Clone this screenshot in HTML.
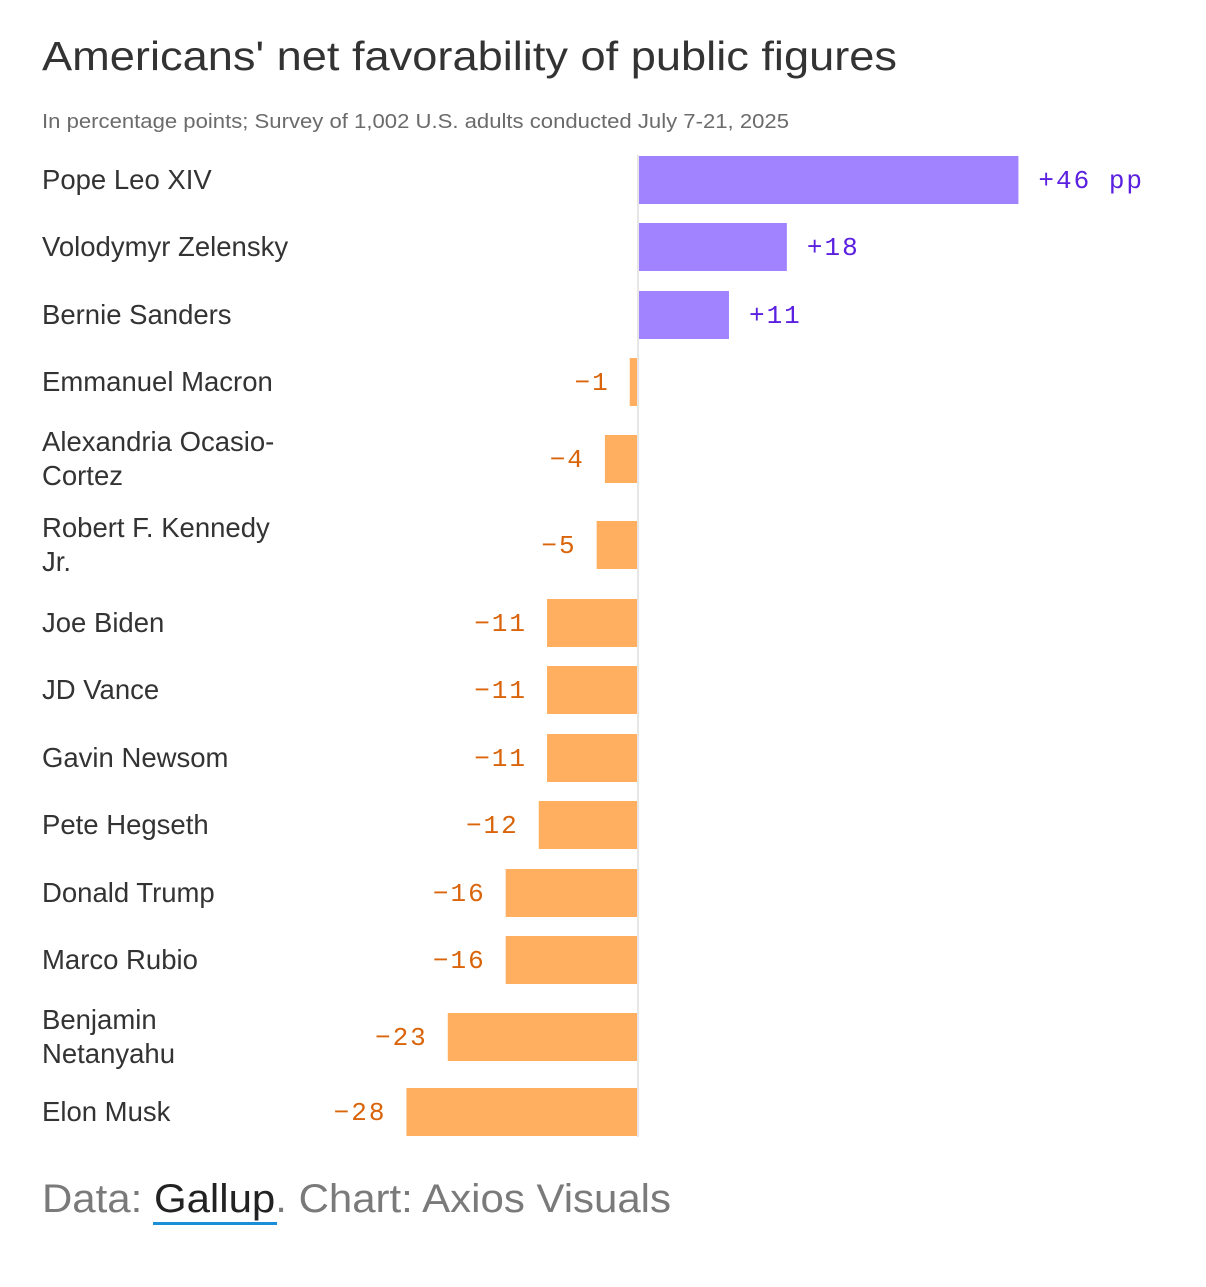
<!DOCTYPE html>
<html><head><meta charset="utf-8"><style>
body{margin:0;background:#fff;width:1206px;height:1282px;overflow:hidden;font-family:"Liberation Sans",sans-serif}
</style></head><body>
<svg width="1206" height="1282">
<text x="42" y="70" font-size="41" fill="#333" textLength="855" lengthAdjust="spacingAndGlyphs">Americans' net favorability of public figures</text>
<text x="42" y="128" font-size="20" fill="#6b6b6b" textLength="747" lengthAdjust="spacingAndGlyphs">In percentage points; Survey of 1,002 U.S. adults conducted July 7-21, 2025</text>
<g id="bars"></g>
<rect x="637" y="155" width="2" height="982" fill="#e6e6e6"/>
<text x="42" y="1212" font-size="40" fill="#7a7a7a" textLength="629" lengthAdjust="spacingAndGlyphs">Data: <tspan fill="#222">Gallup</tspan>. Chart: Axios Visuals</text>
<rect x="153" y="1222" width="124" height="3" fill="#1a8fd8"/>
</svg>
<script>
const names=[["Pope Leo XIV"],["Volodymyr Zelensky"],["Bernie Sanders"],["Emmanuel Macron"],["Alexandria Ocasio-","Cortez"],["Robert F. Kennedy","Jr."],["Joe Biden"],["JD Vance"],["Gavin Newsom"],["Pete Hegseth"],["Donald Trump"],["Marco Rubio"],["Benjamin","Netanyahu"],["Elon Musk"]];
const values=[46,18,11,-1,-4,-5,-11,-11,-11,-12,-16,-16,-23,-28];
const rowCenters=[180,247,315,382,459,545,623,690,758,825,893,960,1037,1112];
const zeroX=638, scale=8.27, barH=48;
const x=v=>zeroX+v*scale;
const g=document.getElementById('bars');
const NS='http://www.w3.org/2000/svg';
values.forEach((v,i)=>{
  const cy=rowCenters[i];
  const r=document.createElementNS(NS,'rect');
  
  
  const x0=Math.min(x(0),x(v)), w=Math.abs(x(v)-x(0));
  r.setAttribute('x',x0);r.setAttribute('y',cy-barH/2);r.setAttribute('width',Math.max(w,1));r.setAttribute('height',barH);
  r.setAttribute('fill',v>=0?'#a183ff':'#ffaf5f');
  g.appendChild(r);
  const t=document.createElementNS(NS,'text');
  
  
  t.setAttribute('font-family','"Liberation Mono",monospace');
  t.setAttribute('font-size','26');
  t.setAttribute('letter-spacing','2');
  t.setAttribute('y',cy+8);
  if(v>=0){t.setAttribute('x',x(v)+20);t.setAttribute('fill','#5b1fe0');t.textContent='+'+v+(i===0?' pp':'');}
  else{t.setAttribute('x',x(v)-20);t.setAttribute('text-anchor','end');t.setAttribute('fill','#d9640a');t.textContent='\u2212'+Math.abs(v);}
  g.appendChild(t);
  const lines=names[i];
  lines.forEach((ln,j)=>{
    const n=document.createElementNS(NS,'text');
    
    
    n.setAttribute('x',42);n.setAttribute('font-size','27.5');n.setAttribute('fill','#333');
    n.setAttribute('y',cy+9+(j-(lines.length-1)/2)*34);
    n.textContent=ln;g.appendChild(n);
  });
});
</script>
</body></html>
